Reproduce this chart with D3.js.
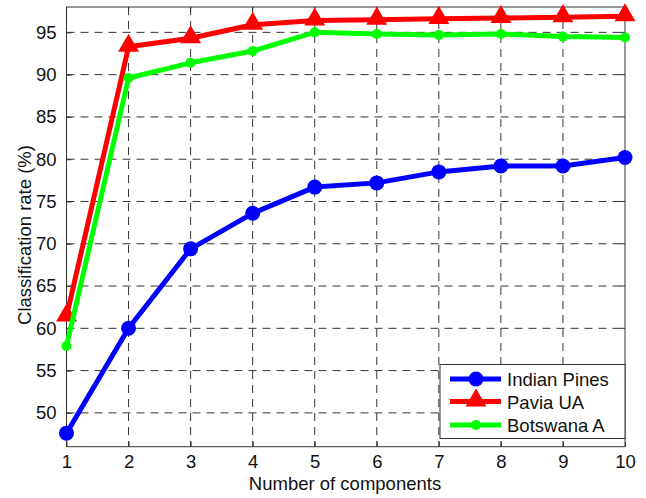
<!DOCTYPE html>
<html><head><meta charset="utf-8">
<script src="https://cdn.jsdelivr.net/npm/d3@7"></script>
<style>body{margin:0;background:#fff}svg{display:block}text{font-family:"Liberation Sans",Arial,sans-serif;fill:#111}</style>
</head><body><svg id="c" width="646" height="498"></svg>
<script>
const components = [1,2,3,4,5,6,7,8,9,10];
const indianPines = [47.6,60.0,69.4,73.6,76.7,77.2,78.5,79.2,79.2,80.2];
const paviaUA = [61.4,93.3,94.3,95.9,96.4,96.5,96.6,96.7,96.8,96.9];
const botswanaA = [57.9,89.6,91.4,92.8,95.0,94.8,94.7,94.8,94.5,94.4];
const yTicks = [50,55,60,65,70,75,80,85,90,95];
const seriesNames = ["Indian Pines","Pavia UA","Botswana A"];

const FS = 18.5;
const svg = d3.select("#c");
const L=66.5,R=625,T=7,B=446.7;
const x = d3.scaleLinear().domain([1,10]).range([L,R]);
const y = d3.scaleLinear().domain([46,98]).range([B,T]);

// grid
const g = svg.append("g");
g.selectAll(".vg").data(components.slice(1,-1)).join("line")
 .attr("x1",d=>x(d)).attr("x2",d=>x(d)).attr("y1",T).attr("y2",B)
 .attr("stroke","#333").attr("stroke-width",1).attr("stroke-dasharray","8,6");
g.selectAll(".hg").data(yTicks).join("line")
 .attr("x1",L).attr("x2",R).attr("y1",d=>y(d)).attr("y2",d=>y(d))
 .attr("stroke","#333").attr("stroke-width",1).attr("stroke-dasharray","8,6");

// axes
const xa = svg.append("g").attr("transform",`translate(0,${B})`)
 .call(d3.axisBottom(x).tickValues(components).tickFormat(d3.format("d")).tickSizeInner(-5).tickSizeOuter(0).tickPadding(8));
const ya = svg.append("g").attr("transform",`translate(${L},0)`)
 .call(d3.axisLeft(y).tickValues(yTicks).tickSizeInner(-5).tickSizeOuter(0).tickPadding(10));
[xa,ya].forEach(a=>{a.select(".domain").remove();a.selectAll("line").attr("stroke","#333");
 a.selectAll("text").attr("font-size",FS).attr("font-family","Liberation Sans, Arial, sans-serif").attr("fill","#111");});
// right ticks & top ticks
svg.append("g").selectAll("line").data(yTicks).join("line").attr("x1",R).attr("x2",R-5).attr("y1",d=>y(d)).attr("y2",d=>y(d)).attr("stroke","#333");
svg.append("g").selectAll("line").data(components).join("line").attr("x1",d=>x(d)).attr("x2",d=>x(d)).attr("y1",T).attr("y2",T+5).attr("stroke","#333");
svg.append("rect").attr("x",L).attr("y",T).attr("width",R-L).attr("height",B-T).attr("fill","none").attr("stroke","#333").attr("stroke-width",1);

svg.append("text").attr("x",345).attr("y",490).attr("text-anchor","middle").attr("font-size",FS).text("Number of components");
svg.append("text").attr("transform",`translate(31,235) rotate(-90)`).attr("text-anchor","middle").attr("font-size",FS).text("Classification rate (%)");

const line = d3.line().x((d,i)=>x(components[i])).y(d=>y(d));
const tri = d3.symbol().type(d3.symbolTriangle).size(190);

function drawSeries(vals,color,marker){
  svg.append("path").datum(vals).attr("d",line).attr("fill","none").attr("stroke",color).attr("stroke-width",5).attr("stroke-linejoin","round");
  const gg = svg.append("g");
  vals.forEach((v,i)=>marker(gg,x(components[i]),y(v),color));
}
const circ = r=>(gg,cx,cy,c)=>gg.append("circle").attr("cx",cx).attr("cy",cy).attr("r",r).attr("fill",c);
const trim = (gg,cx,cy,c)=>gg.append("path").attr("d",tri).attr("transform",`translate(${cx},${cy-1})`).attr("fill",c);

drawSeries(indianPines,"#0000ff",circ(7.5));
drawSeries(paviaUA,"#ff0000",trim);
drawSeries(botswanaA,"#00ff00",circ(5));

// legend
const lg = svg.append("g");
lg.append("rect").attr("x",440).attr("y",364.5).attr("width",185).attr("height",74).attr("fill","#fff").attr("stroke","#333");
const colors=["#0000ff","#ff0000","#00ff00"];
const markers=[circ(7.5),trim,circ(5)];
const rows=[379,401.5,425];
seriesNames.forEach((n,i)=>{
  lg.append("line").attr("x1",450).attr("x2",501).attr("y1",rows[i]).attr("y2",rows[i]).attr("stroke",colors[i]).attr("stroke-width",5);
  markers[i](lg,476,rows[i],colors[i]);
  lg.append("text").attr("x",507).attr("y",rows[i]+7).attr("font-size",FS).text(n);
});
</script></body></html>
